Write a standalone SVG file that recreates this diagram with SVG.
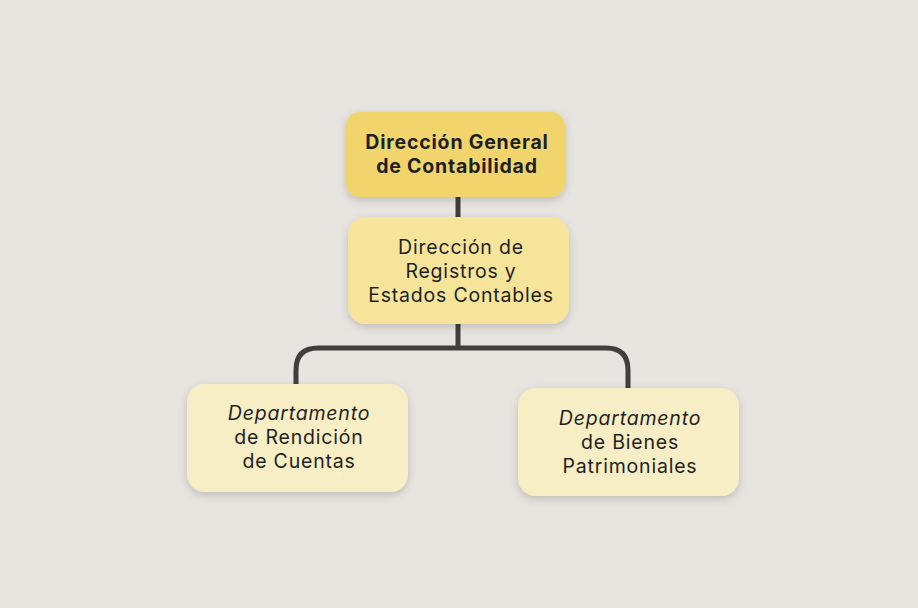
<svg xmlns="http://www.w3.org/2000/svg" width="918" height="608" viewBox="0 0 918 608">
<defs>
<filter id="sh" x="-20%" y="-20%" width="140%" height="150%">
<feDropShadow dx="0" dy="3" stdDeviation="4" flood-color="#000" flood-opacity="0.18"/>
</filter>
<style>
.t{font-family:Inter,"Open Sans","Liberation Sans",sans-serif;font-size:19.5px;letter-spacing:0.8px;fill:#1f1f1f;text-anchor:middle;dominant-baseline:central}
.b{font-weight:700}
.i{font-style:italic}
.c{fill:none;stroke:#3f3f3f;stroke-width:5;stroke-linecap:butt}
</style>
</defs>
<rect width="918" height="608" fill="#e8e5e0"/>
<g id="connectors">
<line class="c" x1="458" y1="195" x2="458" y2="219"/>
<path class="c" d="M458 322 V348 M296 384 V370 Q296 348 318 348 H606 Q628 348 628 370 V388"/>
</g>
<g id="n1">
<rect x="346" y="112" width="219" height="85" rx="14" fill="#f1d56c" filter="url(#sh)"/>
<text class="t b" x="457" y="142">Dirección General</text>
<text class="t b" x="457" y="166">de Contabilidad</text>
</g>
<g id="n2">
<rect x="348" y="217" width="221" height="107" rx="18" fill="#f6e49b" filter="url(#sh)"/>
<text class="t" x="461" y="247">Dirección de</text>
<text class="t" x="461" y="271">Registros y</text>
<text class="t" x="461" y="295">Estados Contables</text>
</g>
<g id="n3">
<rect x="187" y="384" width="221" height="108" rx="18" fill="#f8eec5" filter="url(#sh)"/>
<text class="t i" x="299" y="413">Departamento</text>
<text class="t" x="299" y="437">de Rendición</text>
<text class="t" x="299" y="461">de Cuentas</text>
</g>
<g id="n4">
<rect x="518" y="388" width="221" height="108" rx="18" fill="#f8eec5" filter="url(#sh)"/>
<text class="t i" x="630" y="418">Departamento</text>
<text class="t" x="630" y="442">de Bienes</text>
<text class="t" x="630" y="466">Patrimoniales</text>
</g>
</svg>
